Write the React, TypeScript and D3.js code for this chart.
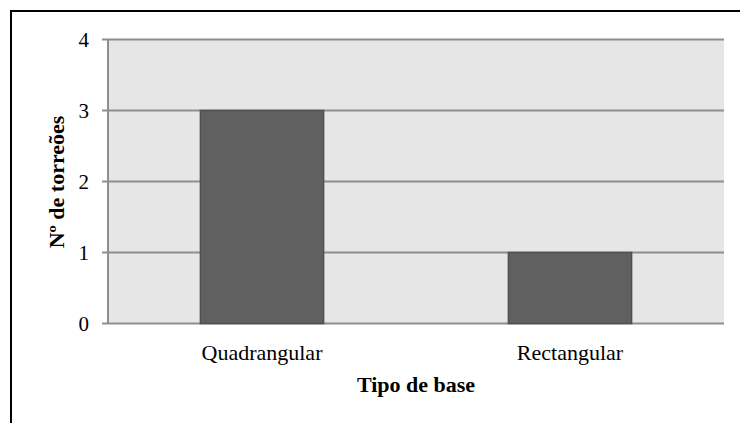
import * as React from "react";
import * as d3 from "d3";

const categories: string[] = ["Quadrangular", "Rectangular"];
const values: number[] = [3, 1];
const yTicks: number[] = [0, 1, 2, 3, 4];
const yTitle: string = "Nº de torreões";
const xTitle: string = "Tipo de base";

const W = 740;
const H = 423;
const margin = { left: 108, right: 16, top: 39.5, bottom: 99.5 };
const font = "'Liberation Serif', 'Times New Roman', serif";

export default function App(): JSX.Element {
  const ref = React.useRef<SVGSVGElement>(null);

  React.useEffect(() => {
    const svg = d3.select(ref.current);
    svg.selectAll("*").remove();

    const x = d3.scaleBand<string>()
      .domain(categories)
      .range([margin.left, W - margin.right])
      .paddingInner(0.6)
      .paddingOuter(0.3);
    const y = d3.scaleLinear()
      .domain([0, 4])
      .range([H - margin.bottom, margin.top]);

    // outer frame
    svg.append("rect")
      .attr("x", 11).attr("y", 11)
      .attr("width", W + 10).attr("height", H + 10)
      .attr("fill", "none").attr("stroke", "#000").attr("stroke-width", 2);

    // plot background
    svg.append("rect")
      .attr("x", margin.left).attr("y", margin.top)
      .attr("width", W - margin.right - margin.left)
      .attr("height", H - margin.bottom - margin.top)
      .attr("fill", "#e6e6e6");

    // grid lines + ticks
    const grid = svg.append("g");
    yTicks.forEach((t: number) => {
      grid.append("line")
        .attr("x1", margin.left - 6).attr("x2", W - margin.right)
        .attr("y1", y(t)).attr("y2", y(t))
        .attr("stroke", "#8e8e8e").attr("stroke-width", 2);
      svg.append("text")
        .attr("x", 89).attr("y", y(t) + 7)
        .attr("text-anchor", "end")
        .attr("font-family", font).attr("font-size", 21)
        .attr("fill", "#000")
        .text(String(t));
    });

    // y axis line
    svg.append("line")
      .attr("x1", margin.left).attr("x2", margin.left)
      .attr("y1", y(4)).attr("y2", y(0))
      .attr("stroke", "#8e8e8e").attr("stroke-width", 2);

    // bars
    svg.append("g").selectAll("rect")
      .data(values)
      .join("rect")
      .attr("x", (_d: number, i: number) => x(categories[i]) as number)
      .attr("y", (d: number) => y(d))
      .attr("width", x.bandwidth())
      .attr("height", (d: number) => y(0) - y(d))
      .attr("fill", "#606060")
      .attr("stroke", "#505050").attr("stroke-width", 1.5);

    // category labels
    categories.forEach((c: string) => {
      svg.append("text")
        .attr("x", (x(c) as number) + x.bandwidth() / 2)
        .attr("y", 360)
        .attr("text-anchor", "middle")
        .attr("font-family", font).attr("font-size", 22)
        .text(c);
    });

    // axis titles
    svg.append("text")
      .attr("x", 416).attr("y", 392)
      .attr("text-anchor", "middle")
      .attr("font-family", font).attr("font-size", 22).attr("font-weight", "bold")
      .text(xTitle);

    svg.append("text")
      .attr("transform", `translate(64, 182) rotate(-90)`)
      .attr("text-anchor", "middle")
      .attr("font-family", font).attr("font-size", 22).attr("font-weight", "bold")
      .text(yTitle);
  }, []);

  return <svg ref={ref} width={W} height={H}
    style={{ position: "absolute", left: 0, top: 0, background: "#fff" }} />;
}
